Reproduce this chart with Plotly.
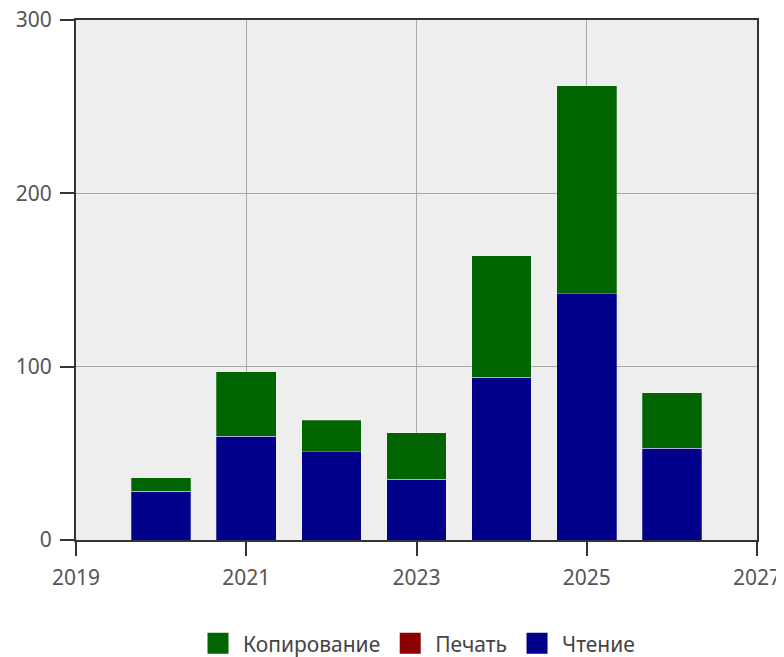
import plotly.graph_objects as go

years = [2020, 2021, 2022, 2023, 2024, 2025, 2026]
reading = [28, 60, 51, 35, 94, 142, 53]
printing = [0, 0, 0, 0, 0, 0, 0]
copying = [8, 37, 18, 27, 70, 120, 32]

series = [
    ('Чтение', reading, '#00008B'),
    ('Печать', printing, '#8B0000'),
    ('Копирование', copying, '#006400'),
]

fig = go.Figure()
for name, vals, color in series:
    fig.add_trace(go.Bar(x=years, y=vals, name=name, showlegend=False,
                         marker=dict(color=color, line=dict(width=0.5, color='rgba(255,255,255,0.5)'))))

# legend entries with bigger square swatches
for name, vals, color in reversed(series):
    fig.add_trace(go.Scatter(x=[None], y=[None], name=name, mode='markers',
                             marker=dict(symbol='square', size=16, color=color,
                                         line=dict(width=5, color=color))))

# the page body adds an 8px offset, so the figure is a bit smaller than the window
fig.update_layout(
    template='none',
    barmode='stack',
    bargap=0.3,
    width=776, height=649,
    margin=dict(l=68, r=27, t=12, b=117, autoexpand=False),
    paper_bgcolor='white',
    plot_bgcolor='#EEEEEE',
    font=dict(family='Noto Sans', size=21, color='#555'),
    showlegend=True,
    legend=dict(orientation='h', x=0.5, xanchor='center', y=-0.16, yanchor='top',
                traceorder='normal', itemwidth=40, font=dict(size=21, color='#444'),
                bgcolor='rgba(0,0,0,0)'),
)
fig.update_xaxes(range=[2019, 2027], dtick=2, tick0=2019, showgrid=True, gridcolor='#a8a8a8',
                 gridwidth=1, showline=True, linecolor='#333', linewidth=2, mirror=True,
                 ticks='outside', ticklen=14, tickwidth=2, tickcolor='#333',
                 ticklabelstandoff=4,
                 zeroline=False, automargin=False, ticklabeloverflow='allow')
fig.update_yaxes(range=[0, 300], dtick=100, showgrid=True, gridcolor='#a8a8a8',
                 gridwidth=1, showline=True, linecolor='#333', linewidth=2, mirror=True,
                 ticks='outside', ticklen=14, tickwidth=2, tickcolor='#333',
                 ticklabelstandoff=4,
                 zeroline=False, automargin=False, ticklabeloverflow='allow')

fig.write_html("out.html")
